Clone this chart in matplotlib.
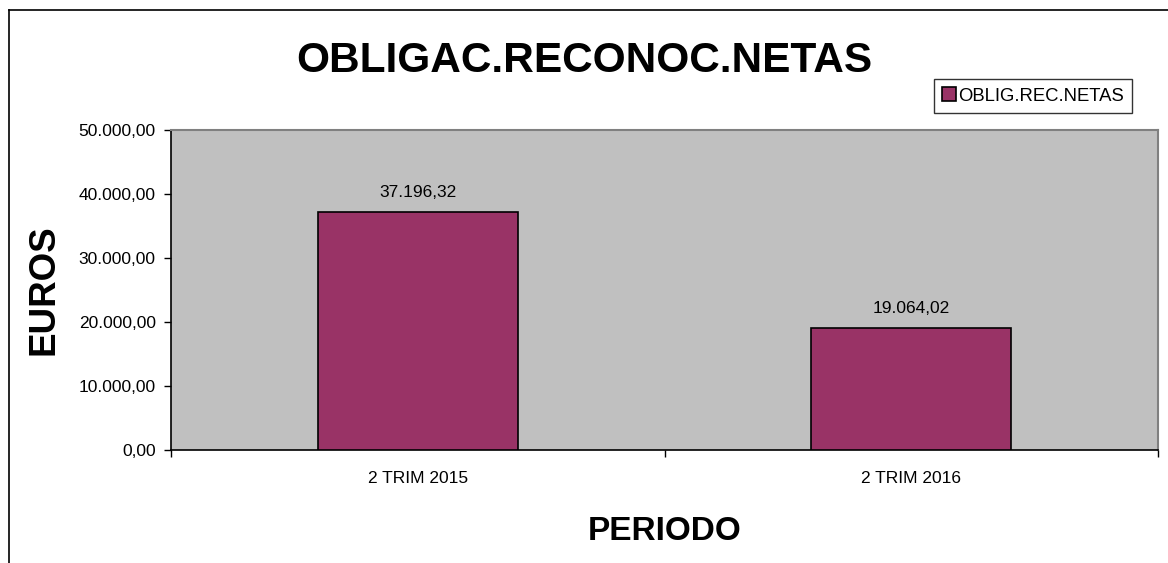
#!/usr/bin/env python3
"""Obligaciones reconocidas netas: 2 trim 2015 vs 2 trim 2016."""

import matplotlib

matplotlib.use("Agg")
import matplotlib.pyplot as plt
from matplotlib.lines import Line2D
from matplotlib.ticker import FuncFormatter

periods = ["2 TRIM 2015", "2 TRIM 2016"]
obligaciones = [37196.32, 19064.02]
y_ticks = [0, 10000, 20000, 30000, 40000, 50000]

W, H = 1168, 563


def euro_fmt(value, _pos=None):
    text = f"{value:,.2f}"
    return text.replace(",", "X").replace(".", ",").replace("X", ".")


def main() -> None:
    plt.rcParams["font.family"] = ["Liberation Sans", "DejaVu Sans"]
    fig = plt.figure(figsize=(W / 100, H / 100), dpi=100)
    ax = fig.add_axes([171 / W, 113 / H, 987 / W, 320 / H])

    xs = list(range(len(periods)))
    ax.bar(xs, obligaciones, width=0.405, color="#993366", edgecolor="black",
           linewidth=1.2, label="OBLIG.REC.NETAS", zorder=3)
    for x, v in zip(xs, obligaciones):
        ax.annotate(euro_fmt(v), (x, v), xytext=(0, 12), textcoords="offset pixels",
                    ha="center", va="bottom", fontsize=12.5)

    ax.set_facecolor("#C0C0C0")
    ax.set_xlim(-0.5, len(periods) - 0.5)
    ax.set_ylim(0, 50000)
    ax.set_yticks(y_ticks)
    ax.yaxis.set_major_formatter(FuncFormatter(euro_fmt))
    ax.set_xticks(xs, periods)
    ax.set_xticks([-0.5, 0.5, 1.5], minor=True)
    ax.tick_params(axis="x", which="major", length=0, pad=15, labelsize=12.5)
    ax.tick_params(axis="x", which="minor", length=5, width=1, direction="out")
    ax.tick_params(axis="y", length=5, width=1, direction="out", pad=6, labelsize=12.5)

    for side in ("top", "right"):
        ax.spines[side].set_color("#808080")
        ax.spines[side].set_linewidth(1.5)
    for side in ("left", "bottom"):
        ax.spines[side].set_color("black")
        ax.spines[side].set_linewidth(1.2)

    ax.set_xlabel("PERIODO", fontsize=24, fontweight="bold", labelpad=22)
    ax.set_ylabel("EUROS", fontsize=26.5, fontweight="bold", labelpad=12)
    fig.text(584 / W, 1 - 61 / H, "OBLIGAC.RECONOC.NETAS", fontsize=30.5,
             fontweight="bold", ha="center", va="center")

    leg = ax.legend(loc="upper left", bbox_to_anchor=(934 / W, 1 - 79 / H),
                    bbox_transform=fig.transFigure, fontsize=13.3, frameon=True,
                    fancybox=False, edgecolor="black", borderpad=0.45,
                    handlelength=0.75, handleheight=0.75, handletextpad=0.1,
                    borderaxespad=0)
    leg.get_frame().set_linewidth(1.0)

    # outer chart frame (cropped on the right and bottom)
    fig.add_artist(Line2D([9 / W, 9 / W], [0, 1 - 10 / H], color="black", linewidth=1.2))
    fig.add_artist(Line2D([9 / W, 1], [1 - 10 / H, 1 - 10 / H], color="black", linewidth=1.2))

    fig.savefig("out.png", dpi=100)
    plt.close(fig)


if __name__ == "__main__":
    main()
